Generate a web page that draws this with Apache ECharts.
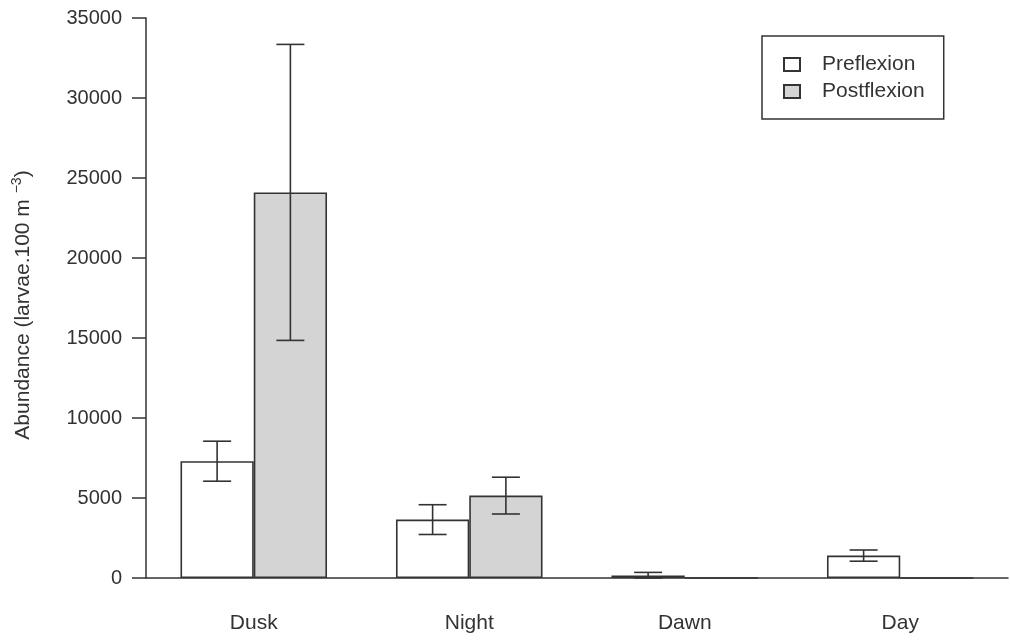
<!DOCTYPE html>
<html>
<head>
<meta charset="utf-8">
<script src="https://cdn.jsdelivr.net/npm/echarts@6/dist/echarts.min.js"></script>
<style>
html,body{margin:0;padding:0;background:#fff;}
#chart{width:1010px;height:641px;}
</style>
</head>
<body>
<div id="chart"></div>
<script>
const categories = ['Dusk', 'Night', 'Dawn', 'Day'];
const preflexion = [7300, 3650, 150, 1400];
const preflexionErr = [1250, 930, 200, 350];
const postflexion = [24100, 5150, 0, 0];
const postflexionErr = [9250, 1150, 0, 0];
const yTicks = [0, 5000, 10000, 15000, 20000, 25000, 30000, 35000];

const CAT_GAP = 0.32;
const INK = '#333333';
const FONT = 'Liberation Sans, Arial, sans-serif';

function errSeries(values, errs, side) {
  const data = values.map((v, i) => [i, v, errs[i]]);
  return {
    type: 'custom',
    silent: true,
    z: 5,
    data: data,
    renderItem: function (params, api) {
      const i = api.value(0), v = api.value(1), e = api.value(2);
      if (!e) return null;
      const band = api.size([1, 0])[0];
      const barW = band * (1 - CAT_GAP) / 2;
      const c = api.coord([i, v]);
      const x = c[0] + side * barW / 2;
      const yHi = api.coord([i, v + e])[1];
      const yLo = api.coord([i, Math.max(0, v - e)])[1];
      const cap = 14;
      const st = { stroke: INK, lineWidth: 1.6 };
      return {
        type: 'group',
        children: [
          { type: 'line', shape: { x1: x, y1: yHi, x2: x, y2: yLo }, style: st },
          { type: 'line', shape: { x1: x - cap, y1: yHi, x2: x + cap, y2: yHi }, style: st },
          { type: 'line', shape: { x1: x - cap, y1: yLo, x2: x + cap, y2: yLo }, style: st }
        ]
      };
    }
  };
}

const chart = echarts.init(document.getElementById('chart'), null, { renderer: 'canvas' });
chart.setOption({
  animation: false,
  backgroundColor: '#fff',
  textStyle: { fontFamily: FONT, color: INK },
  grid: { left: 146, right: 2, top: 18, bottom: 63, containLabel: false },
  legend: {
    orient: 'vertical',
    left: 762,
    top: 36,
    padding: [18, 19, 17, 21],
    itemGap: 6,
    itemWidth: 16,
    itemHeight: 13,
    borderColor: INK,
    borderWidth: 1.5,
    icon: 'rect',
    textStyle: { fontFamily: FONT, fontSize: 21, color: INK, padding: [0, 0, 0, 17] },
    data: ['Preflexion', 'Postflexion']
  },
  xAxis: {
    type: 'category',
    data: categories,
    axisLine: { show: true, lineStyle: { color: INK, width: 1.5 } },
    axisTick: { show: false },
    axisLabel: { margin: 35, fontSize: 21, color: INK, fontFamily: FONT }
  },
  yAxis: {
    type: 'value',
    min: yTicks[0],
    max: yTicks[yTicks.length - 1],
    interval: 5000,
    name: 'Abundance (larvae.100 m {sup|−3})',
    nameLocation: 'middle',
    nameRotate: 90,
    nameGap: 110,
    nameTextStyle: {
      fontSize: 21, color: INK, fontFamily: FONT, padding: [0, 14, 0, 0],
      rich: { sup: { fontSize: 14, verticalAlign: 'top', padding: [0, 0, 12, 0], color: INK, fontFamily: FONT } }
    },
    axisLine: { show: true, lineStyle: { color: INK, width: 1.5 } },
    axisTick: { show: true, inside: false, length: 14, lineStyle: { color: INK, width: 1.5 } },
    axisLabel: { margin: 24, fontSize: 20, color: INK, fontFamily: FONT, formatter: v => String(v) },
    splitLine: { show: false }
  },
  series: [
    {
      name: 'Preflexion',
      type: 'bar',
      data: preflexion,
      barGap: '0%',
      barCategoryGap: (CAT_GAP * 100) + '%',
      itemStyle: { color: '#ffffff', borderColor: INK, borderWidth: 1.6 }
    },
    {
      name: 'Postflexion',
      type: 'bar',
      data: postflexion,
      barGap: '0%',
      barCategoryGap: (CAT_GAP * 100) + '%',
      itemStyle: { color: '#d4d4d4', borderColor: INK, borderWidth: 1.6 }
    },
    errSeries(preflexion, preflexionErr, -1),
    errSeries(postflexion, postflexionErr, 1)
  ]
});
</script>
</body>
</html>
